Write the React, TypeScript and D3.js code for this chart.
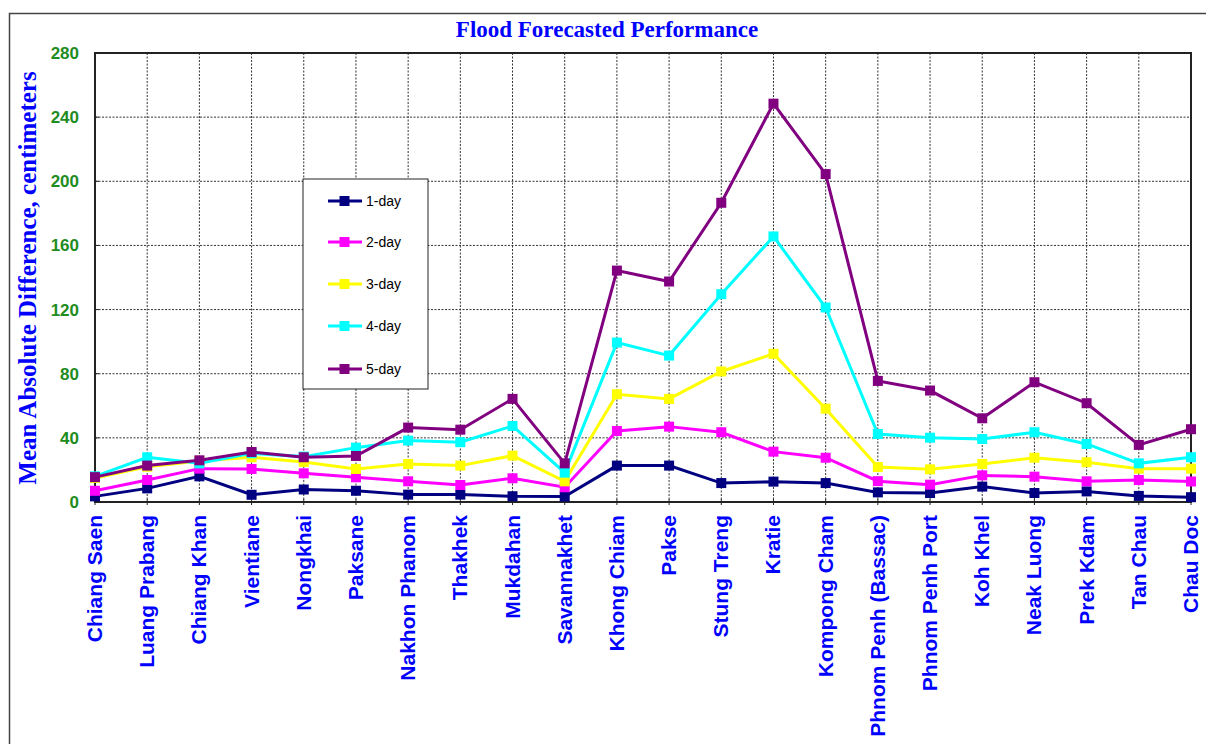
import React from "react";
import * as d3 from "d3";

const stations = [
  "Chiang Saen",
  "Luang Prabang",
  "Chiang Khan",
  "Vientiane",
  "Nongkhai",
  "Paksane",
  "Nakhon Phanom",
  "Thakhek",
  "Mukdahan",
  "Savannakhet",
  "Khong Chiam",
  "Pakse",
  "Stung Treng",
  "Kratie",
  "Kompong Cham",
  "Phnom Penh (Bassac)",
  "Phnom Penh Port",
  "Koh Khel",
  "Neak Luong",
  "Prek Kdam",
  "Tan Chau",
  "Chau Doc",
];

const day1 = [3.5, 8.5, 16, 4.5, 7.8, 7, 4.6, 4.6, 3.6, 3.4, 22.7, 22.7, 11.8, 12.7, 11.8, 6, 5.6, 9.6, 5.6, 6.6, 3.8, 3];
const day2 = [7, 13.7, 20.8, 20.6, 17.9, 15.4, 12.9, 10.6, 14.8, 9.2, 44.3, 47, 43.5, 31.4, 27.6, 13, 10.8, 16.6, 15.8, 12.9, 13.7, 12.8];
const day3 = [15, 22, 25.6, 27.9, 25, 20.6, 23.7, 22.7, 28.9, 12.9, 67.2, 64.3, 81.4, 92.4, 58.2, 21.8, 20.4, 23.7, 27.6, 24.8, 20.8, 20.8];
const day4 = [16, 27.9, 24.1, 30.4, 28.3, 33.9, 38.3, 37.3, 47.4, 18.3, 99.4, 91.3, 129.6, 165.6, 121.3, 42.4, 40.1, 39.3, 43.5, 36.2, 24.1, 27.9];
const day5 = [15.5, 22.7, 26, 31.2, 27.9, 28.7, 46.4, 45.1, 64.3, 24.1, 144.3, 137.5, 186.6, 248.4, 204.5, 75.5, 69.5, 52.2, 74.7, 61.6, 35.6, 45.4];

const seriesNames = ["1-day", "2-day", "3-day", "4-day", "5-day"];
const seriesColors = ["#000080", "#ff00ff", "#ffff00", "#00ffff", "#800080"];
const yTicks = [0, 40, 80, 120, 160, 200, 240, 280];

const W = 1206;
const H = 744;
const plot = { left: 95, right: 1191, top: 53, bottom: 502 };

export default function App() {
  const series = [day1, day2, day3, day4, day5];

  const x = d3.scalePoint<string>().domain(stations).range([plot.left, plot.right]).padding(0);
  const y = d3.scaleLinear().domain([0, 280]).range([plot.bottom, plot.top]);

  const line = d3
    .line<number>()
    .x((_, i) => x(stations[i]) ?? 0)
    .y((d) => y(d));

  const legend = { x: 303, y: 179, w: 125, h: 210 };
  const legendRows = [201, 242, 284, 326, 369];

  return (
    <div style={{ position: "absolute", left: 0, top: 0 }}>
      <svg width={W} height={H} style={{ display: "block", background: "#fff" }}>
        {/* outer frame */}
        <path d={`M9.5,${H} V13.5 H${W}`} fill="none" stroke="#444" strokeWidth={1.5} />

        <text
          x={607}
          y={37}
          textAnchor="middle"
          fontFamily="'Liberation Serif', 'Times New Roman', serif"
          fontWeight="bold"
          fontSize={23}
          fill="#0000ff"
        >
          Flood Forecasted Performance
        </text>

        {/* grid */}
        <g stroke="#333" strokeWidth={1} strokeDasharray="2,1.5">
          {yTicks.slice(1, -1).map((t) => (
            <line key={t} x1={plot.left} x2={plot.right} y1={y(t)} y2={y(t)} />
          ))}
          {stations.slice(1, -1).map((s) => (
            <line key={s} x1={x(s)} x2={x(s)} y1={plot.top} y2={plot.bottom} />
          ))}
        </g>

        {/* plot border */}
        <rect
          x={plot.left}
          y={plot.top}
          width={plot.right - plot.left}
          height={plot.bottom - plot.top}
          fill="none"
          stroke="#222"
          strokeWidth={2}
        />

        {/* y ticks */}
        <g>
          {yTicks.map((t) => (
            <g key={t}>
              <line x1={plot.left} x2={plot.left + 4} y1={y(t)} y2={y(t)} stroke="#222" />
              <text
                x={79}
                y={y(t)}
                dy="0.35em"
                textAnchor="end"
                fontFamily="'Liberation Sans', Arial, sans-serif"
                fontWeight="bold"
                fontSize={17}
                fill="#1e8c1e"
              >
                {t}
              </text>
            </g>
          ))}
        </g>

        <text
          transform={`translate(36,278) rotate(-90)`}
          textAnchor="middle"
          fontFamily="'Liberation Serif', 'Times New Roman', serif"
          fontWeight="bold"
          fontSize={25}
          fill="#0000ff"
        >
          Mean Absolute Difference, centimeters
        </text>

        {/* x labels */}
        {stations.map((s) => (
          <g key={s}>
            <line x1={x(s)} x2={x(s)} y1={plot.bottom - 3} y2={plot.bottom + 3} stroke="#222" />
            <text
              transform={`translate(${(x(s) ?? 0) + 7},${plot.bottom + 13}) rotate(-90)`}
              textAnchor="end"
              fontFamily="'Liberation Sans', Arial, sans-serif"
              fontWeight="bold"
              fontSize={21}
              fill="#0000ff"
            >
              {s}
            </text>
          </g>
        ))}

        {/* series */}
        {series.map((vals, si) => (
          <g key={seriesNames[si]}>
            <path d={line(vals) ?? ""} fill="none" stroke={seriesColors[si]} strokeWidth={3} />
            {vals.map((v, i) => (
              <rect
                key={i}
                x={(x(stations[i]) ?? 0) - 5}
                y={y(v) - 5}
                width={10}
                height={10}
                fill={seriesColors[si]}
              />
            ))}
          </g>
        ))}

        {/* legend */}
        <rect x={legend.x} y={legend.y} width={legend.w} height={legend.h} fill="#fff" stroke="#222" strokeWidth={1} />
        {seriesNames.map((name, i) => (
          <g key={name}>
            <line x1={328} x2={362} y1={legendRows[i]} y2={legendRows[i]} stroke={seriesColors[i]} strokeWidth={3} />
            <rect x={339.5} y={legendRows[i] - 5} width={10} height={10} fill={seriesColors[i]} />
            <text
              x={366}
              y={legendRows[i]}
              dy="0.35em"
              fontFamily="'Liberation Sans', Arial, sans-serif"
              fontSize={14}
              fill="#000"
            >
              {name}
            </text>
          </g>
        ))}
      </svg>
    </div>
  );
}
